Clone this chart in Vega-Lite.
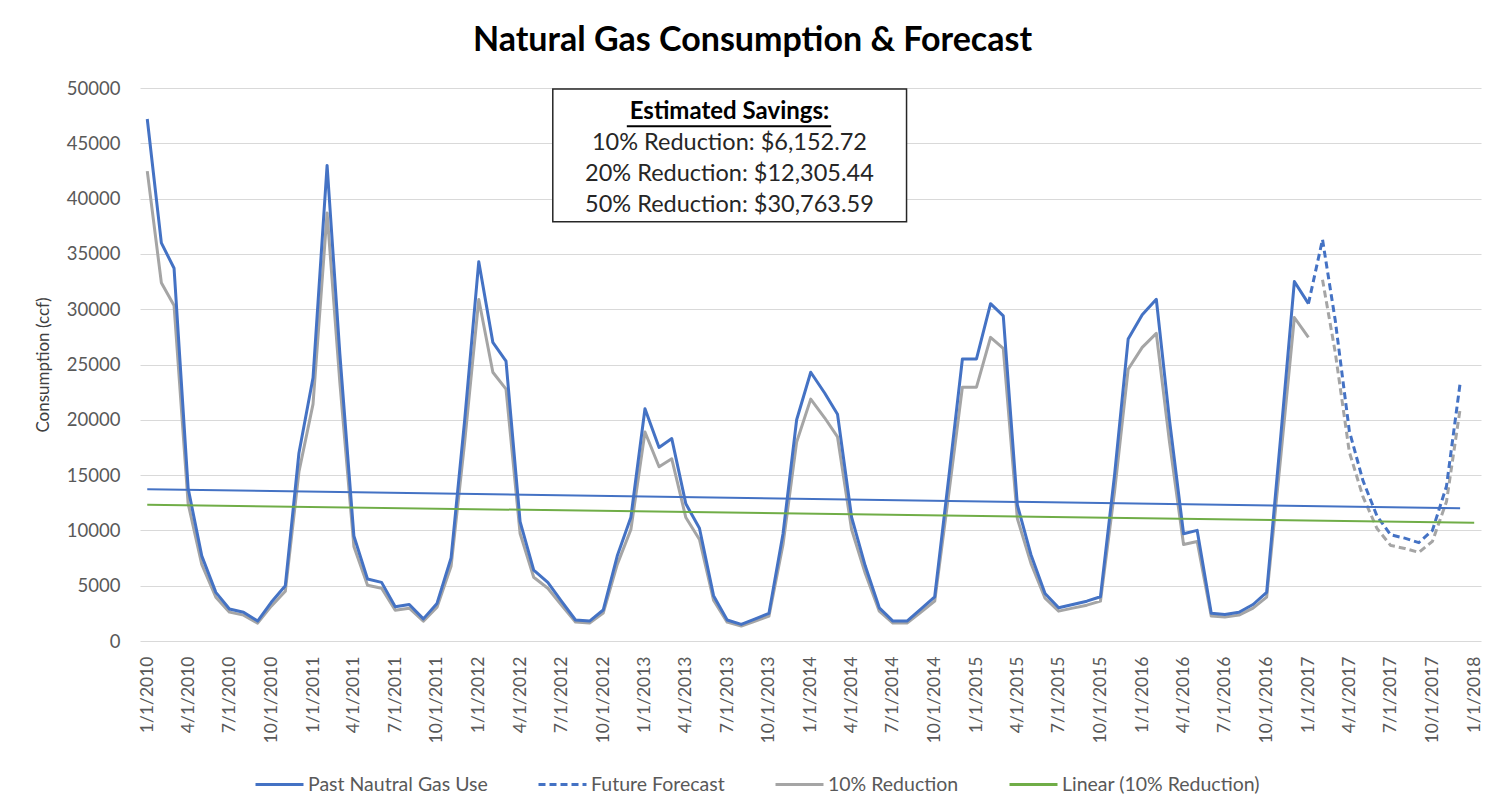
{
  "$schema": "https://vega.github.io/schema/vega-lite/v6.json",
  "width": 1341,
  "height": 553,
  "autosize": {"type": "none"},
  "padding": {"left": 140, "top": 88, "right": 5, "bottom": 169},
  "background": "white",
  "config": {
    "font": "Lato",
    "view": {"stroke": null},
    "axis": {"labelFont": "Lato", "titleFont": "Lato"}
  },
  "title": {
    "text": "Natural Gas Consumption & Forecast",
    "font": "Lato",
    "fontSize": 34,
    "fontWeight": "bold",
    "color": "#000000",
    "frame": "group",
    "anchor": "middle",
    "dx": -58,
    "offset": 21
  },
  "datasets": {
    "main": [
      {"date": "2010/01/01", "past": 47200, "reduction": 42480},
      {"date": "2010/02/01", "past": 36000, "reduction": 32400},
      {"date": "2010/03/01", "past": 33700, "reduction": 30330},
      {"date": "2010/04/01", "past": 13800, "reduction": 12420},
      {"date": "2010/05/01", "past": 7700, "reduction": 6930},
      {"date": "2010/06/01", "past": 4400, "reduction": 3960},
      {"date": "2010/07/01", "past": 2900, "reduction": 2610},
      {"date": "2010/08/01", "past": 2600, "reduction": 2340},
      {"date": "2010/09/01", "past": 1800, "reduction": 1620},
      {"date": "2010/10/01", "past": 3500, "reduction": 3150},
      {"date": "2010/11/01", "past": 5000, "reduction": 4500},
      {"date": "2010/12/01", "past": 17000, "reduction": 15300},
      {"date": "2011/01/01", "past": 23800, "reduction": 21420},
      {"date": "2011/02/01", "past": 43000, "reduction": 38700},
      {"date": "2011/03/01", "past": 26000, "reduction": 23400},
      {"date": "2011/04/01", "past": 9500, "reduction": 8550},
      {"date": "2011/05/01", "past": 5600, "reduction": 5040},
      {"date": "2011/06/01", "past": 5300, "reduction": 4770},
      {"date": "2011/07/01", "past": 3100, "reduction": 2790},
      {"date": "2011/08/01", "past": 3300, "reduction": 2970},
      {"date": "2011/09/01", "past": 2000, "reduction": 1800},
      {"date": "2011/10/01", "past": 3400, "reduction": 3060},
      {"date": "2011/11/01", "past": 7500, "reduction": 6750},
      {"date": "2011/12/01", "past": 20000, "reduction": 18000},
      {"date": "2012/01/01", "past": 34300, "reduction": 30870},
      {"date": "2012/02/01", "past": 27000, "reduction": 24300},
      {"date": "2012/03/01", "past": 25300, "reduction": 22770},
      {"date": "2012/04/01", "past": 10800, "reduction": 9720},
      {"date": "2012/05/01", "past": 6400, "reduction": 5760},
      {"date": "2012/06/01", "past": 5300, "reduction": 4770},
      {"date": "2012/07/01", "past": 3600, "reduction": 3240},
      {"date": "2012/08/01", "past": 1900, "reduction": 1710},
      {"date": "2012/09/01", "past": 1800, "reduction": 1620},
      {"date": "2012/10/01", "past": 2800, "reduction": 2520},
      {"date": "2012/11/01", "past": 7700, "reduction": 6930},
      {"date": "2012/12/01", "past": 11200, "reduction": 10080},
      {"date": "2013/01/01", "past": 21000, "reduction": 18900},
      {"date": "2013/02/01", "past": 17500, "reduction": 15750},
      {"date": "2013/03/01", "past": 18300, "reduction": 16470},
      {"date": "2013/04/01", "past": 12400, "reduction": 11160},
      {"date": "2013/05/01", "past": 10200, "reduction": 9180},
      {"date": "2013/06/01", "past": 4100, "reduction": 3690},
      {"date": "2013/07/01", "past": 1900, "reduction": 1710},
      {"date": "2013/08/01", "past": 1500, "reduction": 1350},
      {"date": "2013/09/01", "past": 2000, "reduction": 1800},
      {"date": "2013/10/01", "past": 2500, "reduction": 2250},
      {"date": "2013/11/01", "past": 9700, "reduction": 8730},
      {"date": "2013/12/01", "past": 20000, "reduction": 18000},
      {"date": "2014/01/01", "past": 24300, "reduction": 21870},
      {"date": "2014/02/01", "past": 22400, "reduction": 20160},
      {"date": "2014/03/01", "past": 20500, "reduction": 18450},
      {"date": "2014/04/01", "past": 11200, "reduction": 10080},
      {"date": "2014/05/01", "past": 6800, "reduction": 6120},
      {"date": "2014/06/01", "past": 3000, "reduction": 2700},
      {"date": "2014/07/01", "past": 1800, "reduction": 1620},
      {"date": "2014/08/01", "past": 1800, "reduction": 1620},
      {"date": "2014/09/01", "past": 2900, "reduction": 2610},
      {"date": "2014/10/01", "past": 4000, "reduction": 3600},
      {"date": "2014/11/01", "past": 14800, "reduction": 13320},
      {"date": "2014/12/01", "past": 25500, "reduction": 22950},
      {"date": "2015/01/01", "past": 25500, "reduction": 22950},
      {"date": "2015/02/01", "past": 30500, "reduction": 27450},
      {"date": "2015/03/01", "past": 29400, "reduction": 26460},
      {"date": "2015/04/01", "past": 12300, "reduction": 11070},
      {"date": "2015/05/01", "past": 7800, "reduction": 7020},
      {"date": "2015/06/01", "past": 4300, "reduction": 3870},
      {"date": "2015/07/01", "past": 3000, "reduction": 2700},
      {"date": "2015/08/01", "past": 3300, "reduction": 2970},
      {"date": "2015/09/01", "past": 3600, "reduction": 3240},
      {"date": "2015/10/01", "past": 4000, "reduction": 3600},
      {"date": "2015/11/01", "past": 15000, "reduction": 13500},
      {"date": "2015/12/01", "past": 27300, "reduction": 24570},
      {"date": "2016/01/01", "past": 29500, "reduction": 26550},
      {"date": "2016/02/01", "past": 30900, "reduction": 27810},
      {"date": "2016/03/01", "past": 20000, "reduction": 18000},
      {"date": "2016/04/01", "past": 9700, "reduction": 8730},
      {"date": "2016/05/01", "past": 10000, "reduction": 9000},
      {"date": "2016/06/01", "past": 2500, "reduction": 2250},
      {"date": "2016/07/01", "past": 2400, "reduction": 2160},
      {"date": "2016/08/01", "past": 2600, "reduction": 2340},
      {"date": "2016/09/01", "past": 3300, "reduction": 2970},
      {"date": "2016/10/01", "past": 4400, "reduction": 3960},
      {"date": "2016/11/01", "past": 18500, "reduction": 16650},
      {"date": "2016/12/01", "past": 32500, "reduction": 29250},
      {"date": "2017/01/01", "past": 30500, "reduction": 27450, "forecast": 30500},
      {"date": "2017/02/01", "forecast": 36300, "reductionForecast": 32670},
      {"date": "2017/03/01", "forecast": 29000, "reductionForecast": 26100},
      {"date": "2017/04/01", "forecast": 19000, "reductionForecast": 17100},
      {"date": "2017/05/01", "forecast": 14500, "reductionForecast": 13050},
      {"date": "2017/06/01", "forecast": 11300, "reductionForecast": 10170},
      {"date": "2017/07/01", "forecast": 9600, "reductionForecast": 8640},
      {"date": "2017/08/01", "forecast": 9300, "reductionForecast": 8370},
      {"date": "2017/09/01", "forecast": 8900, "reductionForecast": 8010},
      {"date": "2017/10/01", "forecast": 10000, "reductionForecast": 9000},
      {"date": "2017/11/01", "forecast": 14000, "reductionForecast": 12600},
      {"date": "2017/12/01", "forecast": 23300, "reductionForecast": 20970}
    ],
    "trendPast": [
      {"date": "2010/01/01", "value": 13716},
      {"date": "2017/12/01", "value": 12000}
    ],
    "trendReduction": [
      {"date": "2010/01/01", "value": 12320},
      {"date": "2018/01/01", "value": 10700}
    ],
    "box": [
      {"start": "2012/06/12", "end": "2014/07/31", "top": 49900, "bottom": 37900}
    ],
    "heading": [
      {"date": "2013/07/06", "value": 47830, "label": "Estimated Savings:", "uStart": "2012/11/22", "uEnd": "2014/02/15", "uValue": 46550}
    ],
    "notes": [
      {"date": "2013/07/06", "value": 45030, "label": "10% Reduction: $6,152.72"},
      {"date": "2013/07/06", "value": 42230, "label": "20% Reduction: $12,305.44"},
      {"date": "2013/07/06", "value": 39430, "label": "50% Reduction:  $30,763.59"}
    ]
  },
  "layer": [
    {
      "data": {"name": "main"},
      "mark": {"type": "line", "strokeWidth": 3, "strokeCap": "butt", "strokeJoin": "round"},
      "encoding": {
        "x": {
          "field": "date", "type": "temporal",
          "scale": {"domain": [{"year": 2009, "month": 12, "date": 16}, {"year": 2018, "month": 1, "date": 16}]},
          "axis": {
            "title": null,
            "format": "%-m/%-d/%Y",
            "tickCount": {"interval": "month", "step": 3},
            "labelAngle": 270,
            "labelFontSize": 17.5,
            "labelColor": "#595959",
            "labelPadding": 15,
            "labelOverlap": false,
            "labelFlush": false,
            "grid": false,
            "domain": false,
            "ticks": false
          }
        },
        "y": {
          "field": "reduction", "type": "quantitative",
          "scale": {"domain": [0, 50000], "nice": false},
          "axis": {
            "title": "Consumption (ccf)",
            "titleFontSize": 17,
            "titleFontWeight": "normal",
            "titleColor": "#404040",
            "titlePadding": 14,
            "values": [0, 5000, 10000, 15000, 20000, 25000, 30000, 35000, 40000, 45000, 50000],
            "format": "d",
            "labelFontSize": 18.5,
            "labelColor": "#595959",
            "labelPadding": 20,
            "grid": true,
            "gridColor": "#D9D9D9",
            "gridWidth": 1,
            "domain": false,
            "ticks": false
          }
        },
        "color": {
          "datum": "10% Reduction",
          "scale": {
            "domain": ["Past Nautral Gas Use", "Future Forecast", "10% Reduction", "Linear (10% Reduction)"],
            "range": ["#4472C4", "#4472C4", "#A5A5A5", "#70AD47"]
          },
          "legend": {
            "title": null,
            "orient": "none",
            "direction": "horizontal",
            "legendX": 114,
            "legendY": 671,
            "symbolType": "stroke",
            "symbolSize": 2304,
            "symbolStrokeWidth": 3,
            "labelFont": "Lato",
            "labelFontSize": 19.5,
            "labelColor": "#595959",
            "labelOffset": 3,
            "labelLimit": 0,
            "columnPadding": 44,
            "padding": 0,
            "encode": {
              "symbols": {
                "update": {
                  "strokeDash": {"signal": "datum.value === 'Future Forecast' ? [7, 4] : [1, 0]"}
                }
              }
            }
          }
        }
      }
    },
    {
      "data": {"name": "main"},
      "mark": {"type": "line", "strokeWidth": 3, "strokeDash": [7, 4], "color": "#A5A5A5"},
      "encoding": {
        "x": {"field": "date", "type": "temporal"},
        "y": {"field": "reductionForecast", "type": "quantitative"}
      }
    },
    {
      "data": {"name": "main"},
      "mark": {"type": "line", "strokeWidth": 3, "strokeJoin": "round"},
      "encoding": {
        "x": {"field": "date", "type": "temporal"},
        "y": {"field": "past", "type": "quantitative"},
        "color": {"datum": "Past Nautral Gas Use"}
      }
    },
    {
      "data": {"name": "main"},
      "mark": {"type": "line", "strokeWidth": 3, "strokeDash": [7, 4]},
      "encoding": {
        "x": {"field": "date", "type": "temporal"},
        "y": {"field": "forecast", "type": "quantitative"},
        "color": {"datum": "Future Forecast"}
      }
    },
    {
      "data": {"name": "trendPast"},
      "mark": {"type": "line", "strokeWidth": 2, "color": "#4472C4"},
      "encoding": {
        "x": {"field": "date", "type": "temporal"},
        "y": {"field": "value", "type": "quantitative"}
      }
    },
    {
      "data": {"name": "trendReduction"},
      "mark": {"type": "line", "strokeWidth": 2},
      "encoding": {
        "x": {"field": "date", "type": "temporal"},
        "y": {"field": "value", "type": "quantitative"},
        "color": {"datum": "Linear (10% Reduction)"}
      }
    },
    {
      "data": {"name": "box"},
      "mark": {"type": "rect", "fill": "white", "stroke": "#262626", "strokeWidth": 1.5},
      "encoding": {
        "x": {"field": "start", "type": "temporal"},
        "x2": {"field": "end"},
        "y": {"field": "top", "type": "quantitative"},
        "y2": {"field": "bottom"}
      }
    },
    {
      "data": {"name": "heading"},
      "mark": {"type": "text", "font": "Lato", "fontSize": 24, "fontWeight": "bold", "color": "#000000", "baseline": "middle", "align": "center"},
      "encoding": {
        "x": {"field": "date", "type": "temporal"},
        "y": {"field": "value", "type": "quantitative"},
        "text": {"field": "label"}
      }
    },
    {
      "data": {"name": "heading"},
      "mark": {"type": "rule", "strokeWidth": 2, "color": "#000000"},
      "encoding": {
        "x": {"field": "uStart", "type": "temporal"},
        "x2": {"field": "uEnd"},
        "y": {"field": "uValue", "type": "quantitative"}
      }
    },
    {
      "data": {"name": "notes"},
      "mark": {"type": "text", "font": "Lato", "fontSize": 23.5, "color": "#262626", "baseline": "middle", "align": "center"},
      "encoding": {
        "x": {"field": "date", "type": "temporal"},
        "y": {"field": "value", "type": "quantitative"},
        "text": {"field": "label"}
      }
    }
  ]
}
